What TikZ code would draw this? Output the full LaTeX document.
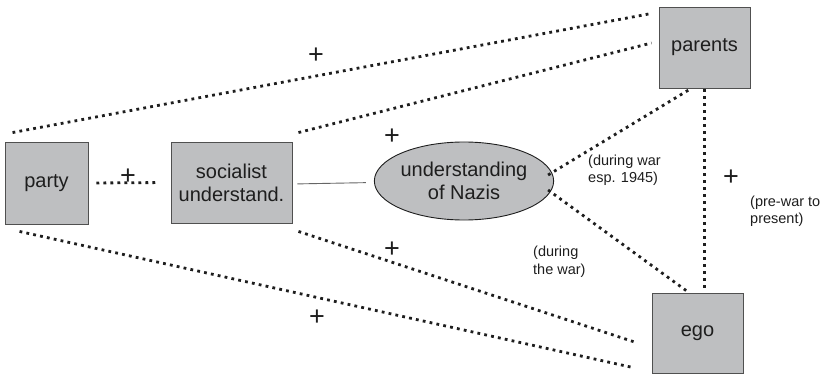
\documentclass[tikz,border=0pt]{standalone}
\usepackage{fontspec}
\setmainfont{Liberation Sans}
\usetikzlibrary{shapes.geometric,calc}
\definecolor{boxfill}{RGB}{190,191,193}
\definecolor{boxline}{RGB}{80,80,80}
\definecolor{ink}{RGB}{30,30,30}
\tikzset{
  box/.style={draw=boxline, line width=0.9pt, fill=boxfill, text=ink, align=center,
    inner sep=0pt, font=\fontsize{20}{23}\selectfont},
  oval/.style={ellipse, draw=ink, line width=0.9pt, fill=boxfill, text=ink, align=center,
    inner sep=0pt, font=\fontsize{20}{23}\selectfont},
  tie/.style={draw=ink, line width=2.8pt, dash pattern=on 2.8pt off 4.2pt},
  thinlink/.style={draw=black!60, line width=0.9pt},
  sign/.style={text=ink, inner sep=0pt, font=\fontsize{27}{27}\selectfont},
  note/.style={text=ink, inner sep=0pt, align=left, anchor=west,
    font=\fontsize{14.5}{17.5}\selectfont},
}
\begin{document}
\begin{tikzpicture}[x=1pt,y=-1pt]
  \useasboundingbox (0,0) rectangle (827,377);

  % actors and beliefs
  \node[box, minimum width=83, minimum height=82] (party) at (46.5,183) {party};
  \node[box, minimum width=121, minimum height=81] (social) at (231.5,182.5) {socialist\\understand.};
  \node[oval, minimum width=178, minimum height=78] (nazis) at (464,181) {understanding\\of Nazis};
  \node[box, minimum width=91, minimum height=81] (parents) at (704.5,47.5) {parents};
  \node[box, minimum width=91, minimum height=80] (ego) at (697.5,333) {ego};

  % dotted ties
  \draw[tie] ($(party.north west)+(8,-9)$) -- ($(parents.north west)+(-7.5,7)$);
  \draw[tie] ($(social.north east)+(6,-9)$) -- ($(parents.west)+(-7,-4.5)$);
  \draw[tie, shorten <=8pt, shorten >=14pt] (party.east) -- (social.west);
  \draw[tie] ($(nazis.east)+(-6,-6)$) -- ($(parents.south)+(-15,1)$);
  \draw[tie] ($(nazis.east)+(-6,9)$) -- ($(ego.north)+(-10,-1)$);
  \draw[tie, shorten <=1pt, shorten >=1pt] (parents.south) -- (parents.south |- ego.north);
  \draw[tie] ($(social.south east)+(6,8)$) -- ($(ego.west)+(-14,10)$);
  \draw[tie] ($(party.south west)+(15,7)$) -- ($(ego.south west)+(-19,-6)$);

  % plain link
  \draw[thinlink, shorten <=5pt, shorten >=8pt] ($(social.east)+(0,1.5)$) -- ($(nazis.west)+(0,1.5)$);

  % signs
  \node[sign] (p1) at (316,56) {+};
  \node[sign] (p2) at (128,177) {+};
  \node[sign] (p3) at (392,137) {+};
  \node[sign] (p4) at (392,250) {+};
  \node[sign] (p5) at (317,318) {+};
  \node[sign] (p6) at (731,178) {+};

  % periods
  \node[note] (t1) at (588,170.5) {(during war\\esp. 1945)};
  \node[note] (t2) at (533,261.5) {(during\\the war)};
  \node[note] (t3) at (750,211.5) {(pre-war to\\present)};
\end{tikzpicture}
\end{document}
